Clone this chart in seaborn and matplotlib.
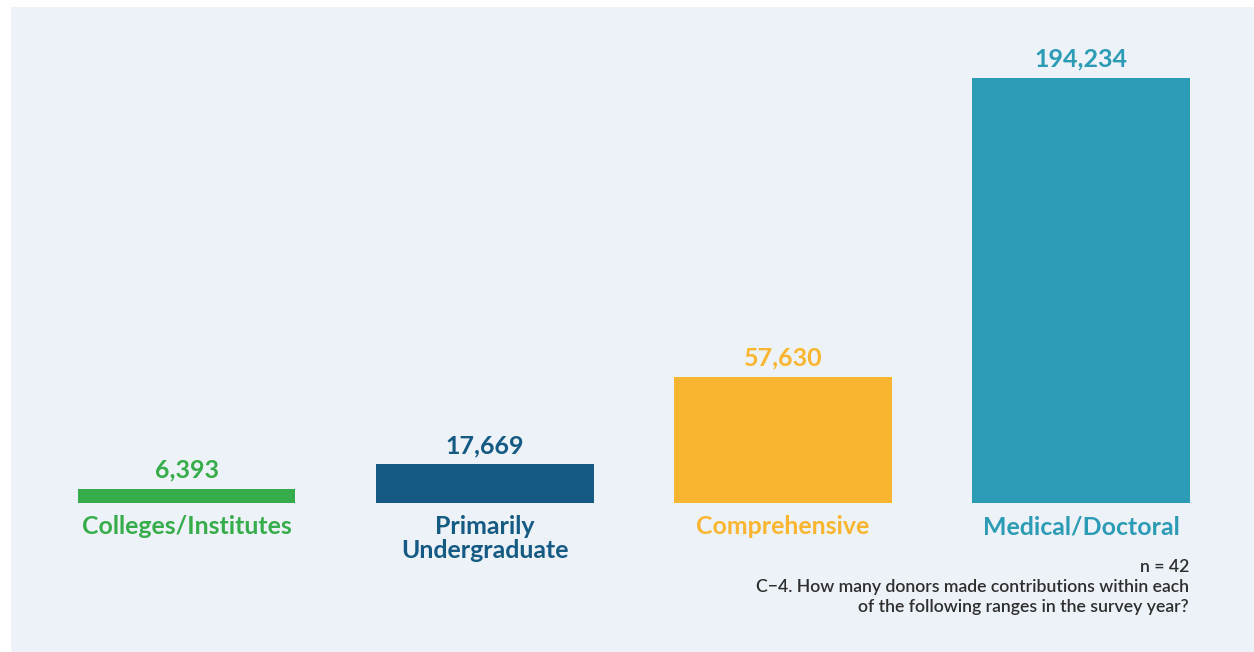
import matplotlib
matplotlib.use("Agg")
import matplotlib.pyplot as plt
from matplotlib.patches import Rectangle
import pandas as pd
import seaborn as sns

# Donor counts by institution type
categories = ["Colleges/Institutes", "Primarily\nUndergraduate", "Comprehensive", "Medical/Doctoral"]
donors = [6393, 17669, 57630, 194234]
colors = ["#36AD4A", "#145A84", "#F9B530", "#2C9BB5"]
footnote_lines = [
    "n = 42",
    "C\u22124. How many donors made contributions within each",
    "of the following ranges in the survey year?",
]

sns.set_style("white")
plt.rcParams["font.family"] = ["Lato", "DejaVu Sans"]

W, H = 1254, 652
fig = plt.figure(figsize=(W / 100, H / 100), dpi=100, facecolor="white")

# light panel behind the chart
fig.patches.append(Rectangle((11 / W, 0), 1 - 11 / W, 1 - 7 / H,
                             transform=fig.transFigure, facecolor="#EDF2F9",
                             edgecolor="none", zorder=-10))

ymax = 210000
base_px, top_px = 503, 78
unit = (base_px - top_px) / donors[3]
ax_h = unit * ymax
left_px, right_px = 37.5, 1230.0
ax = fig.add_axes([left_px / W, (H - base_px) / H, (right_px - left_px) / W, ax_h / H])
ax.set_facecolor("none")

df = pd.DataFrame({"category": categories, "donors": donors})
sns.barplot(data=df, x="category", y="donors", hue="category", palette=colors,
            width=0.73, legend=False, saturation=1, linewidth=0, ax=ax)

ax.set_xlim(-0.5, 3.5)
ax.set_ylim(0, ymax)
for s in ax.spines.values():
    s.set_visible(False)
ax.set_yticks([])
ax.set_xlabel("")
ax.set_ylabel("")

# value labels above bars, baseline a fixed offset above each bar top
for cont, col in zip(ax.containers, colors):
    for bar, v in zip(cont.patches, cont.datavalues):
        ax.annotate(f"{v:,.0f}", xy=(bar.get_x() + bar.get_width() / 2, bar.get_height()),
                    xytext=(0, 8), textcoords="offset points", ha="center", va="baseline",
                    color=col, fontsize=18, fontweight="bold")

# category labels under bars
ax.tick_params(axis="x", length=0, pad=9)
ax.set_xticks(range(len(categories)))
ax.set_xticklabels(categories, fontsize=17.9, fontweight="bold", linespacing=1.02)
for lbl, col in zip(ax.get_xticklabels(), colors):
    lbl.set_color(col)

# survey note, right aligned
for i, line in enumerate(footnote_lines):
    fig.text(1189 / W, 1 - (572.3 + 20 * i) / H, line, ha="right", va="baseline",
             fontsize=12.7, fontweight="semibold", color="#2E2E2E")

fig.savefig("out.png", dpi=100, facecolor="white")
